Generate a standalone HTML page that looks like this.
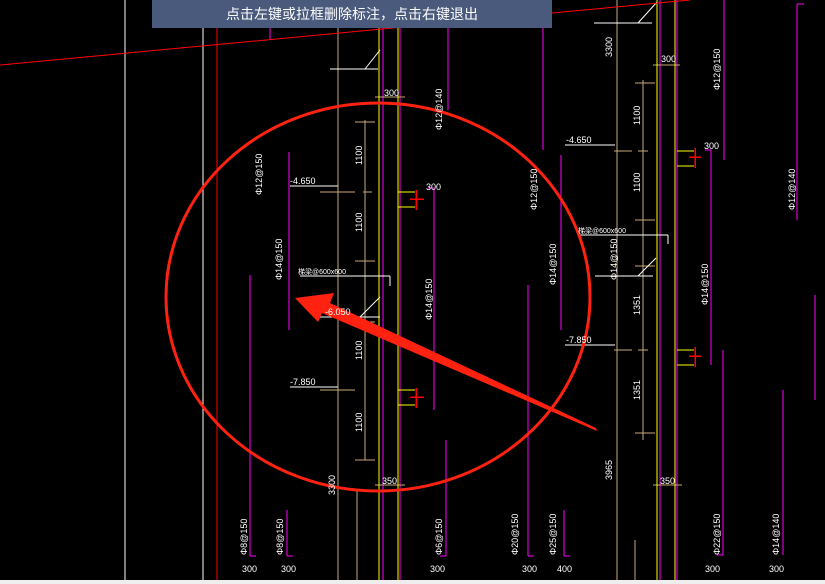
<!DOCTYPE html>
<html><head><meta charset="utf-8"><style>
html,body{margin:0;padding:0;background:#000;width:825px;height:584px;overflow:hidden}
svg{display:block}
.t{font-family:"Liberation Sans",sans-serif;font-size:9px;fill:#fff}
.banner{position:absolute;left:152px;top:0;width:400px;height:28px;background:#4a5a7c;color:#fff;font-family:"Liberation Sans","Noto Sans CJK SC",sans-serif;font-size:14px;line-height:28px;text-align:center}
</style></head><body>
<svg width="825" height="584" xmlns="http://www.w3.org/2000/svg">
<g stroke-width="1" fill="none" shape-rendering="crispEdges">
<line x1="125" y1="0" x2="125" y2="580" stroke="#fff"/>
<line x1="203" y1="0" x2="203" y2="580" stroke="#fff"/>
<line x1="217" y1="0" x2="217" y2="580" stroke="#f00"/>
<g stroke="#f0f">
<line x1="270" y1="0" x2="270" y2="40"/>
<line x1="250" y1="275" x2="250" y2="556"/><line x1="250" y1="556" x2="256" y2="556"/>
<line x1="287" y1="510" x2="287" y2="556"/><line x1="287" y1="556" x2="293" y2="556"/>
<line x1="289" y1="152" x2="289" y2="330"/>
<line x1="383" y1="0" x2="383" y2="580"/><line x1="400" y1="0" x2="400" y2="580"/>
<line x1="448" y1="0" x2="448" y2="110"/>
<line x1="434" y1="188" x2="434" y2="410"/><line x1="428" y1="188" x2="434" y2="188"/>
<line x1="446" y1="440" x2="446" y2="556"/><line x1="440" y1="556" x2="446" y2="556"/>
<line x1="543" y1="0" x2="543" y2="150"/>
<line x1="561" y1="155" x2="561" y2="330"/>
<line x1="528" y1="285" x2="528" y2="556"/><line x1="528" y1="556" x2="534" y2="556"/>
<line x1="564" y1="510" x2="564" y2="556"/><line x1="564" y1="556" x2="570" y2="556"/>
<line x1="660" y1="0" x2="660" y2="580"/><line x1="677" y1="0" x2="677" y2="580"/>
<line x1="711" y1="150" x2="711" y2="365"/><line x1="705" y1="150" x2="711" y2="150"/>
<line x1="724" y1="0" x2="724" y2="160"/>
<line x1="723" y1="350" x2="723" y2="555"/><line x1="717" y1="555" x2="723" y2="555"/>
<line x1="783" y1="390" x2="783" y2="555"/>
<line x1="797" y1="4" x2="797" y2="220"/><line x1="797" y1="4" x2="804" y2="4"/>
<line x1="815" y1="295" x2="815" y2="400"/>
</g>
<g stroke="#c8a878">
<line x1="338" y1="0" x2="338" y2="580"/><line x1="365" y1="120" x2="365" y2="460"/>
<line x1="357" y1="490" x2="357" y2="580"/>
<line x1="617" y1="0" x2="617" y2="580"/><line x1="643" y1="80" x2="643" y2="440"/>
<line x1="635" y1="540" x2="635" y2="580"/>
<line x1="320" y1="192" x2="355" y2="192"/><line x1="363" y1="192" x2="372" y2="192"/>
<line x1="320" y1="390" x2="355" y2="390"/>
<line x1="355" y1="122" x2="375" y2="122"/><line x1="355" y1="261" x2="375" y2="261"/>
<line x1="355" y1="322" x2="375" y2="322"/><line x1="355" y1="460" x2="375" y2="460"/>
<line x1="375" y1="97" x2="405" y2="97"/><line x1="375" y1="485" x2="405" y2="485"/>
<line x1="614" y1="151" x2="632" y2="151"/><line x1="638" y1="151" x2="648" y2="151"/>
<line x1="614" y1="350" x2="632" y2="350"/><line x1="638" y1="350" x2="648" y2="350"/>
<line x1="635" y1="83" x2="655" y2="83"/><line x1="635" y1="220" x2="655" y2="220"/>
<line x1="635" y1="266" x2="655" y2="266"/><line x1="635" y1="433" x2="655" y2="433"/>
<line x1="653" y1="65" x2="680" y2="65"/><line x1="653" y1="485" x2="682" y2="485"/>
</g>
<g stroke="#ff0">
<line x1="379" y1="0" x2="379" y2="580"/><line x1="398" y1="0" x2="398" y2="580"/>
<line x1="657" y1="0" x2="657" y2="580"/><line x1="675" y1="0" x2="675" y2="580"/>
<line x1="398" y1="192" x2="415" y2="192"/><line x1="398" y1="207" x2="415" y2="207"/>
<line x1="398" y1="390" x2="415" y2="390"/><line x1="398" y1="405" x2="415" y2="405"/>
<line x1="677" y1="151" x2="694" y2="151"/><line x1="677" y1="166" x2="694" y2="166"/>
<line x1="677" y1="350" x2="694" y2="350"/><line x1="677" y1="365" x2="694" y2="365"/>
</g>
<g stroke="#f00" stroke-width="1.5">
<line x1="416" y1="190" x2="416" y2="210"/><line x1="410" y1="199" x2="424" y2="199"/>
<line x1="416" y1="388" x2="416" y2="408"/><line x1="410" y1="397" x2="424" y2="397"/>
<line x1="695" y1="148" x2="695" y2="168"/><line x1="689" y1="157" x2="701" y2="157"/>
<line x1="695" y1="347" x2="695" y2="367"/><line x1="689" y1="356" x2="701" y2="356"/>
</g>
<g stroke="#fff" shape-rendering="auto">
<line x1="290" y1="186" x2="338" y2="186"/><line x1="290" y1="387" x2="338" y2="387"/>
<line x1="300" y1="276" x2="390" y2="276"/><line x1="390" y1="276" x2="390" y2="286"/>
<line x1="318" y1="317" x2="380" y2="317"/><line x1="360" y1="317" x2="380" y2="297"/>
<line x1="330" y1="69" x2="378" y2="69"/><line x1="365" y1="69" x2="380" y2="50"/>
<line x1="565" y1="145" x2="615" y2="145"/><line x1="565" y1="345" x2="615" y2="345"/>
<line x1="580" y1="235" x2="668" y2="235"/><line x1="668" y1="235" x2="668" y2="244"/>
<line x1="595" y1="276" x2="653" y2="276"/><line x1="638" y1="276" x2="656" y2="258"/>
<line x1="594" y1="23" x2="652" y2="23"/><line x1="638" y1="23" x2="657" y2="2"/>
</g>
</g>
<line x1="0" y1="65" x2="690" y2="0" stroke="#f00"/>
<ellipse cx="378" cy="297" rx="212" ry="194" fill="none" stroke="#f21" stroke-width="3"/>
<polygon points="597,431 596,428 330,303 334,293 295,298 318,322 322,313" fill="#f21"/>
<g class="t" shape-rendering="crispEdges">
<text x="290" y="184">-4.650</text><text x="290" y="385">-7.850</text>
<text x="298" y="274" font-size="7">梯梁@600x600</text><text x="325" y="315">-6.050</text>
<text x="566" y="143">-4.650</text><text x="566" y="343">-7.850</text>
<text x="578" y="233" font-size="7">梯梁@600x600</text>
<text x="384" y="96">300</text><text x="426" y="190">300</text><text x="382" y="484">350</text>
<text x="661" y="62">300</text><text x="704" y="149">300</text><text x="660" y="484">350</text>
<text x="242" y="572">300</text><text x="281" y="572">300</text><text x="430" y="572">300</text>
<text x="522" y="572">300</text><text x="557" y="572">400</text><text x="705" y="572">300</text><text x="769" y="572">300</text>
</g>
<g class="t" font-size="8">
<text transform="translate(362,165) rotate(-90)">1100</text><text transform="translate(362,232) rotate(-90)">1100</text>
<text transform="translate(362,360) rotate(-90)">1100</text><text transform="translate(362,432) rotate(-90)">1100</text>
<text transform="translate(640,125) rotate(-90)">1100</text><text transform="translate(640,192) rotate(-90)">1100</text>
<text transform="translate(640,315) rotate(-90)">1351</text><text transform="translate(640,400) rotate(-90)">1351</text>
<text transform="translate(612,57) rotate(-90)">3300</text><text transform="translate(335,495) rotate(-90)">3300</text>
<text transform="translate(612,480) rotate(-90)">3965</text>
<text transform="translate(282,280) rotate(-90)">Φ14@150</text><text transform="translate(432,320) rotate(-90)">Φ14@150</text>
<text transform="translate(537,210) rotate(-90)">Φ12@150</text><text transform="translate(556,285) rotate(-90)">Φ14@150</text>
<text transform="translate(262,195) rotate(-90)">Φ12@150</text><text transform="translate(442,130) rotate(-90)">Φ12@140</text>
<text transform="translate(720,90) rotate(-90)">Φ12@150</text><text transform="translate(795,210) rotate(-90)">Φ12@140</text>
<text transform="translate(617,280) rotate(-90)">Φ14@150</text><text transform="translate(708,305) rotate(-90)">Φ14@150</text>
<text transform="translate(247,555) rotate(-90)">Φ8@150</text><text transform="translate(283,555) rotate(-90)">Φ8@150</text>
<text transform="translate(442,555) rotate(-90)">Φ6@150</text><text transform="translate(518,555) rotate(-90)">Φ20@150</text>
<text transform="translate(556,555) rotate(-90)">Φ25@150</text><text transform="translate(720,555) rotate(-90)">Φ22@150</text>
<text transform="translate(779,555) rotate(-90)">Φ14@140</text>
</g>
</svg>
<div class="banner">点击左键或拉框删除标注，点击右键退出</div>
<div style="position:absolute;left:0;top:580px;width:825px;height:4px;background:#eee"></div>
</body></html>
